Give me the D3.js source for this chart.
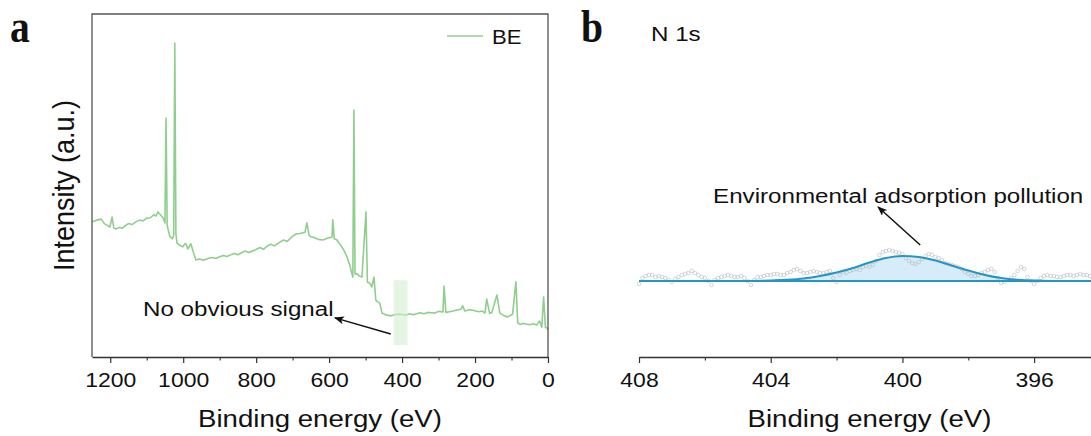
<!DOCTYPE html>
<html>
<head>
<meta charset="utf-8">
<script src="https://cdn.jsdelivr.net/npm/d3@7"></script>
<style>
  body { margin: 0; background: #fff; }
  svg { display: block; }
  text { font-family: "Liberation Sans", Arial, sans-serif; fill: #111; }
</style>
</head>
<body>
<svg id="chart" width="1091" height="436"></svg>
<script>
// ---- (a) XPS survey ----
const surveyBE = [1250, 1238, 1225, 1215, 1207, 1201, 1195, 1190, 1184, 1175,
  1168, 1160, 1150, 1140, 1130, 1120, 1110, 1100, 1090, 1080,
  1075, 1069, 1060, 1055, 1050, 1047, 1044, 1040, 1036, 1030,
  1026, 1023, 1020, 1017, 1010, 1001, 996, 992, 987, 979,
  972, 965, 955, 945, 930, 920, 910, 900, 890, 880,
  872, 860, 850, 840, 830, 820, 803, 790, 780, 770,
  760, 750, 735, 725, 715, 700, 690, 680, 666, 661,
  655, 650, 645, 630, 617, 605, 592, 590, 586, 579,
  572, 565, 558, 551, 544, 538, 535, 532, 529, 524,
  517, 510, 499, 495, 489, 483, 477, 472, 466, 461,
  455, 442, 430, 420, 410, 400, 390, 380, 370, 360,
  350, 340, 330, 320, 310, 300, 288, 285, 280, 270,
  260, 250, 239, 234, 228, 215, 200, 190, 180, 173,
  168, 160, 154, 140, 132, 120, 110, 97, 88, 83,
  75, 70, 60, 50, 40, 31, 23, 17, 12, 7,
  3, 0];
const surveyI = [39.4, 39.9, 40.2, 38.8, 38.3, 37.9, 40.8, 37.6, 37.3, 37.8,
  37.5, 38.2, 38.9, 38.6, 39.4, 39.9, 39.7, 40.5, 40.6, 41.5,
  41.1, 42.3, 41.2, 40.5, 39.1, 69.7, 38.5, 36.5, 35.0, 34.5,
  35.5, 91.5, 36.0, 33.2, 32.6, 32.1, 33.0, 32.9, 31.5, 33.0,
  30.5, 28.3, 28.6, 28.2, 28.8, 29.0, 28.7, 29.2, 29.6, 29.3,
  29.7, 30.2, 29.8, 30.4, 30.9, 30.5, 31.2, 31.9, 31.4, 32.3,
  32.9, 32.4, 33.5, 34.1, 33.7, 35.2, 35.9, 36.0, 36.4, 39.1,
  35.5, 35.0, 35.0, 34.3, 34.1, 34.6, 35.0, 40.0, 34.5, 34.2,
  33.1, 32.1, 30.8, 29.2, 27.0, 24.5, 23.3, 72.0, 24.2, 24.3,
  23.6, 23.3, 42.3, 21.8, 21.6, 20.4, 23.3, 16.6, 16.0, 15.7,
  12.8, 12.2, 12.0, 12.3, 12.5, 12.4, 12.2, 12.6, 12.3, 12.6,
  12.9, 12.6, 13.0, 12.9, 12.8, 13.3, 13.1, 20.7, 13.0, 13.2,
  13.4, 13.7, 13.9, 14.9, 13.4, 13.8, 13.5, 13.2, 13.4, 12.8,
  16.9, 12.7, 13.0, 18.1, 12.8, 12.0, 11.7, 12.5, 21.9, 9.9,
  9.5, 9.8, 9.6, 9.4, 9.7, 9.3, 10.5, 8.7, 17.5, 8.6,
  8.5, 7.9];
const surveyTicks = [1200, 1000, 800, 600, 400, 200, 0];
const surveyMinor = [1100, 900, 700, 500, 300, 100];
const bandBE = [423, 385];
const bandI = [3.5, 22.4];

// ---- (b) N 1s high resolution ----
const n1sBE = [408.0, 407.9, 407.8, 407.7, 407.6, 407.5, 407.4, 407.3, 407.2, 407.1,
  407.0, 406.9, 406.8, 406.7, 406.6, 406.5, 406.4, 406.3, 406.2, 406.1,
  406.0, 405.9, 405.8, 405.7, 405.6, 405.5, 405.4, 405.3, 405.2, 405.1,
  405.0, 404.9, 404.8, 404.7, 404.6, 404.5, 404.4, 404.3, 404.2, 404.1,
  404.0, 403.9, 403.8, 403.7, 403.6, 403.5, 403.4, 403.3, 403.2, 403.1,
  403.0, 402.9, 402.8, 402.7, 402.6, 402.5, 402.4, 402.3, 402.2, 402.1,
  402.0, 401.9, 401.8, 401.7, 401.6, 401.5, 401.4, 401.3, 401.2, 401.1,
  401.0, 400.9, 400.8, 400.7, 400.6, 400.5, 400.4, 400.3, 400.2, 400.1,
  400.0, 399.9, 399.8, 399.7, 399.6, 399.5, 399.4, 399.3, 399.2, 399.1,
  399.0, 398.9, 398.8, 398.7, 398.6, 398.5, 398.4, 398.3, 398.2, 398.1,
  398.0, 397.9, 397.8, 397.7, 397.6, 397.5, 397.4, 397.3, 397.2, 397.1,
  397.0, 396.9, 396.8, 396.7, 396.6, 396.5, 396.4, 396.3, 396.2, 396.1,
  396.0, 395.9, 395.8, 395.7, 395.6, 395.5, 395.4, 395.3, 395.2, 395.1,
  395.0, 394.9, 394.8, 394.7, 394.6, 394.5, 394.4, 394.3];
const n1sI = [-3, 3, 5, 6, 6, 4, 5, 4, 3, 1,
  -1, 2, 4, 6, 7, 8, 10, 8, 6, 4,
  3, 0, -4, 1, 3, 4, 5, 6, 5, 4,
  4, 5, 3, 0, -4, 1, 4, 4, 5, 6,
  6, 7, 7, 6, 6, 8, 9, 11, 12, 10,
  8, 8, 9, 10, 9, 8, 8, 9, 10, 3,
  -1, 6, 9, 8, 10, 11, 12, 11, 14, 15,
  14, 16, 20, 26, 29, 30, 31, 30, 29, 28,
  27, 23, 20, 18, 17, 19, 22, 25, 27, 26,
  24, 23, 21, 18, 17, 16, 15, 14, 12, 9,
  7, 5, 5, 6, 8, 9, 11, 12, 9, 3,
  -2, -1, 1, 3, 6, 10, 14, 12, 4, 0,
  -3, 0, 3, 5, 6, 5, 5, 4, 4, 5,
  6, 6, 5, 6, 7, 6, 6, 5];
const fitBE = [408, 405, 404, 403.5, 403, 402.5, 402, 401.5, 401, 400.5, 400,
  399.5, 399, 398.5, 398, 397.5, 397, 396.5, 396, 395, 394];
const fitI = [0, 0, 0.5, 1.2, 2.5, 5, 8.5, 13, 18.5, 23, 25,
  24, 20.5, 15.5, 10.5, 6, 3, 1.3, 0.5, 0, 0];
const n1sTicks = [408, 404, 400, 396];
const n1sMinor = [406, 402, 398, 394];

const S = 1.15; // glyphs in the figure are a bit wide
const svg = d3.select('#chart');
svg.append('rect').attr('width', 1091).attr('height', 436).attr('fill', '#fff');

svg.append('defs').append('marker')
  .attr('id', 'head').attr('viewBox', '0 0 10 8')
  .attr('refX', 9).attr('refY', 4)
  .attr('markerWidth', 10).attr('markerHeight', 8)
  .attr('markerUnits', 'userSpaceOnUse').attr('orient', 'auto')
  .append('path').attr('d', 'M0,0L10,4L0,8L2.5,4Z').attr('fill', '#111');

function label(x, y, txt, size, s) {
  return svg.append('text')
    .attr('transform', `translate(${x},${y}) scale(${s},1)`)
    .style('font-size', size + 'px')
    .text(txt);
}

function bottomAxis(g, x, major, minor) {
  g.call(d3.axisBottom(x).tickValues(major).tickSize(6).tickSizeOuter(0)
      .tickPadding(10).tickFormat(d3.format('d')))
    .attr('color', '#333');
  g.select('.domain').attr('stroke-width', 1.3);
  g.selectAll('.tick line').attr('stroke-width', 1.2);
  g.selectAll('.tick text').style('font-size', '20px').attr('fill', '#111')
    .attr('font-family', null).attr('transform', `scale(${S},1)`);
  const m = g.append('g').call(d3.axisBottom(x).tickValues(minor).tickSize(3.5).tickFormat(''));
  m.select('.domain').remove();
  m.selectAll('.tick line').attr('stroke-width', 1.1);
}

// ===== panel a =====
const A = { l: 92, r: 548, t: 14, b: 357 };
const xa = d3.scaleLinear().domain([1250, 0]).range([A.l, A.r]);
const ya = d3.scaleLinear().domain([0, 100]).range([A.b, A.t]);

const survey = surveyBE.map((e, i) => [e, surveyI[i]]);
svg.append('path').datum(survey)
  .attr('fill', 'none').attr('stroke', '#8ecf8c').attr('stroke-width', 1.6)
  .attr('stroke-linejoin', 'round')
  .attr('d', d3.line().x(d => xa(d[0])).y(d => ya(d[1])));

svg.append('rect')
  .attr('x', xa(bandBE[0])).attr('width', xa(bandBE[1]) - xa(bandBE[0]))
  .attr('y', ya(bandI[1])).attr('height', ya(bandI[0]) - ya(bandI[1]))
  .attr('fill', '#d3edd0').attr('opacity', 0.6);

svg.append('path')
  .attr('d', `M${A.l},${A.b}V${A.t}H${A.r}V${A.b}`)
  .attr('fill', 'none').attr('stroke', '#555').attr('stroke-width', 1.3);

bottomAxis(svg.append('g').attr('transform', `translate(0,${A.b})`), xa, surveyTicks, surveyMinor);

// legend
svg.append('line').attr('x1', 447).attr('x2', 483).attr('y1', 36).attr('y2', 36)
  .attr('stroke', '#8ecf8c').attr('stroke-width', 1.6);
label(492, 44, 'BE', 21, 1.05);

// annotation
label(xa(1110), ya(12.0), 'No obvious signal', 21, S);
svg.append('line')
  .attr('x1', xa(431)).attr('y1', ya(6.7)).attr('x2', xa(584)).attr('y2', ya(11.4))
  .attr('stroke', '#111').attr('stroke-width', 1.5).attr('marker-end', 'url(#head)');

label((A.l + A.r) / 2, 427, 'Binding energy (eV)', 24, S).attr('text-anchor', 'middle');
svg.append('text')
  .attr('transform', `translate(74,${(A.t + A.b) / 2}) scale(1.1,1) rotate(-90)`)
  .attr('text-anchor', 'middle').style('font-size', '27px')
  .text('Intensity (a.u.)');

svg.append('text').attr('transform', 'translate(10,42) scale(0.86,1)')
  .style('font-family', '"Liberation Serif", "Times New Roman", serif')
  .style('font-weight', 'bold').style('font-size', '46px').text('a');

// ===== panel b =====
const B = { l: 639, r: 1100, t: 14, b: 357 };
const xb = d3.scaleLinear().domain([408, 394]).range([B.l, B.r]);
const yb = d3.scaleLinear().domain([-76, 267]).range([B.b, B.t]);

const fit = fitBE.map((e, i) => [e, fitI[i]]);
svg.append('path').datum(fit)
  .attr('fill', '#d3eaf8').attr('opacity', 0.9)
  .attr('d', d3.area().curve(d3.curveMonotoneX)
    .x(d => xb(d[0])).y0(yb(0)).y1(d => yb(d[1])));

const pts = n1sBE.map((e, i) => [e, n1sI[i]]);
svg.append('g').selectAll('circle').data(pts).join('circle')
  .attr('cx', d => xb(d[0])).attr('cy', d => yb(d[1])).attr('r', 1.8)
  .attr('fill', 'none').attr('stroke', '#b8b8b8').attr('stroke-width', 0.6);

svg.append('line')
  .attr('x1', xb(408)).attr('x2', xb(394)).attr('y1', yb(0)).attr('y2', yb(0))
  .attr('stroke', '#2596c4').attr('stroke-width', 2);
svg.append('path').datum(fit)
  .attr('fill', 'none').attr('stroke', '#2596c4').attr('stroke-width', 2)
  .attr('d', d3.line().curve(d3.curveMonotoneX).x(d => xb(d[0])).y(d => yb(d[1])));

bottomAxis(svg.append('g').attr('transform', `translate(0,${B.b})`), xb, n1sTicks, n1sMinor);

label(xb(405.75), yb(78), 'Environmental adsorption pollution', 21, S);
svg.append('line')
  .attr('x1', xb(399.46)).attr('y1', yb(36)).attr('x2', xb(400.74)).attr('y2', yb(74))
  .attr('stroke', '#111').attr('stroke-width', 1.5).attr('marker-end', 'url(#head)');

label(651, 41, 'N 1s', 21, S);
label((B.l + B.r) / 2, 427, 'Binding energy (eV)', 24, S).attr('text-anchor', 'middle');

svg.append('text').attr('transform', 'translate(581,42) scale(0.86,1)')
  .style('font-family', '"Liberation Serif", "Times New Roman", serif')
  .style('font-weight', 'bold').style('font-size', '46px').text('b');
</script>
</body>
</html>
